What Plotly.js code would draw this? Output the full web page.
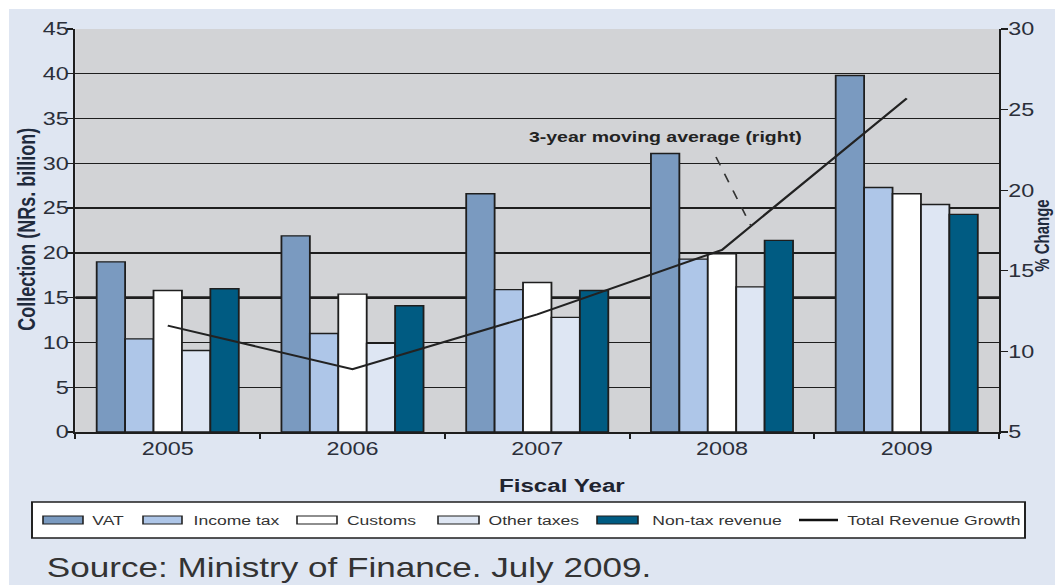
<!DOCTYPE html>
<html>
<head>
<meta charset="utf-8">
<script src="https://cdn.plot.ly/plotly-3.0.1.min.js"></script>
<style>
  html, body { margin: 0; padding: 0; overflow: hidden; background: #dfe6f2; }
  #wrap { width: 1055px; height: 585px; overflow: hidden; }
  #chart { width: 812px; height: 585px; transform: scaleX(1.29926); transform-origin: 0 0; }
</style>
</head>
<body>
<div id="wrap"><div id="chart"></div></div>
<script>
// ---- data ----
const years = ['2005', '2006', '2007', '2008', '2009'];
const vat = [19.0, 21.9, 26.6, 31.1, 39.8];
const incomeTax = [10.4, 11.0, 15.9, 19.3, 27.3];
const customs = [15.8, 15.4, 16.7, 19.9, 26.6];
const otherTaxes = [9.1, 9.9, 12.8, 16.2, 25.4];
const nonTax = [16.0, 14.1, 15.8, 21.4, 24.3];
const revenueGrowth = [11.6, 8.9, 12.3, 16.3, 25.7];

const seriesNames = ['VAT', 'Income tax', 'Customs', 'Other taxes', 'Non-tax revenue'];
const lineName = 'Total Revenue Growth';
const seriesColors = ['#7a9ac0', '#aec6e8', '#ffffff', '#dee6f3', '#005b82'];
const seriesValues = [vat, incomeTax, customs, otherTaxes, nonTax];

// ---- geometry helpers (reference pixel -> paper coords) ----
const W = 812, H = 585, S = 1055 / 812;
const L = 58, R = 43, T = 29, B = 153;
const x0o = L * S, x1o = (W - R) * S;
const xp = px => (px - x0o) / (x1o - x0o);
const yp = py => (432 - py) / (H - T - B);

const FONT = 'Liberation Sans, Arial, sans-serif';
const INK = '#1e1e1e';

const traces = seriesValues.map((vals, i) => ({
  type: 'bar',
  name: seriesNames[i],
  x: years,
  y: vals,
  marker: { color: seriesColors[i], line: { color: INK, width: 1.4 } },
  showlegend: false,
  hoverinfo: 'skip'
}));
traces.push({
  type: 'scatter',
  mode: 'lines',
  name: lineName,
  x: years,
  y: revenueGrowth,
  yaxis: 'y2',
  line: { color: '#222222', width: 2 },
  showlegend: false,
  hoverinfo: 'skip'
});

const shapes = [
  // white strips at top and left of the picture
  { type: 'rect', xref: 'paper', yref: 'paper', x0: xp(0), x1: xp(1056), y0: yp(9), y1: yp(-1),
    fillcolor: '#ffffff', line: { width: 0 } },
  { type: 'rect', xref: 'paper', yref: 'paper', x0: xp(-1), x1: xp(9), y0: yp(586), y1: yp(-1),
    fillcolor: '#ffffff', line: { width: 0 } },
  // heavier line at 15
  { type: 'line', xref: 'paper', yref: 'y', x0: 0, x1: 1, y0: 15, y1: 15, layer: 'below',
    line: { color: INK, width: 2.6 } },
  // annotation pointer
  { type: 'line', xref: 'paper', yref: 'paper', x0: xp(716), y0: yp(157), x1: xp(751), y1: yp(226),
    line: { color: '#333333', width: 1.3, dash: 'dash' } },
  // legend box
  { type: 'rect', xref: 'paper', yref: 'paper', x0: xp(32), x1: xp(1025), y0: yp(538), y1: yp(502),
    fillcolor: '#ffffff', line: { color: INK, width: 1.5 } }
];

const swatchX = [[43, 83], [143, 182], [297, 337], [438, 479], [597, 638]];
const textX = [89, 191, 344, 486, 650, 844];
const LEGEND_FONT = { family: FONT, size: 13.5, color: '#333333' };
const annotations = [];
swatchX.forEach((sx, i) => {
  shapes.push({ type: 'rect', xref: 'paper', yref: 'paper', x0: xp(sx[0]), x1: xp(sx[1]),
    y0: yp(524), y1: yp(516), fillcolor: seriesColors[i], line: { color: INK, width: 1.2 } });
  annotations.push({ xref: 'paper', yref: 'paper', x: xp(textX[i]), y: yp(520), xanchor: 'left', yanchor: 'middle',
    text: seriesNames[i], showarrow: false, font: LEGEND_FONT });
});
shapes.push({ type: 'line', xref: 'paper', yref: 'paper', x0: xp(799), x1: xp(838), y0: yp(520), y1: yp(520),
  line: { color: '#111111', width: 2.5 } });
annotations.push({ xref: 'paper', yref: 'paper', x: xp(textX[5]), y: yp(520), xanchor: 'left', yanchor: 'middle',
  text: lineName, showarrow: false, font: LEGEND_FONT });

annotations.push(
  { xref: 'paper', yref: 'paper', x: xp(27), y: yp(229), xanchor: 'center', yanchor: 'middle', textangle: -90,
    text: 'Collection (NRs. billion)', showarrow: false,
    font: { family: FONT, size: 18, weight: 'bold', color: '#1f2a3c' } },
  { xref: 'paper', yref: 'paper', x: xp(1043), y: yp(235), xanchor: 'center', yanchor: 'middle', textangle: -90,
    text: '% Change', showarrow: false,
    font: { family: FONT, size: 15, weight: 'bold', color: '#1f2a3c' } },
  { xref: 'paper', yref: 'paper', x: xp(562.5), y: yp(485), xanchor: 'center', yanchor: 'middle',
    text: 'Fiscal Year', showarrow: false,
    font: { family: FONT, size: 18.6, weight: 'bold', color: '#1f2430' } },
  { xref: 'paper', yref: 'paper', x: xp(665.5), y: yp(136.5), xanchor: 'center', yanchor: 'middle',
    text: '3-year moving average (right)', showarrow: false,
    font: { family: FONT, size: 15, weight: 'bold', color: '#222222' } },
  { xref: 'paper', yref: 'paper', x: xp(44), y: yp(567.5), xanchor: 'left', yanchor: 'middle',
    text: 'Source: Ministry of Finance. July 2009.', showarrow: false,
    font: { family: FONT, size: 27, color: '#333333' } }
);

const tickFont = { family: FONT, size: 18, color: '#2b2f3a' };

const layout = {
  width: W, height: H,
  margin: { l: L, r: R, t: T, b: B, pad: 0 },
  paper_bgcolor: '#dfe6f2',
  plot_bgcolor: '#d2d3d6',
  barmode: 'group',
  bargap: 0.231,
  bargroupgap: 0,
  showlegend: false,
  xaxis: {
    type: 'category', range: [-0.5, 4.5], fixedrange: true,
    tickson: 'boundaries', ticks: 'outside', ticklen: 5, tickwidth: 1.4, tickcolor: INK,
    showline: true, linecolor: INK, linewidth: 1.5, showgrid: false,
    tickfont: tickFont
  },
  yaxis: {
    range: [0, 45], dtick: 5, tick0: 0, fixedrange: true,
    ticks: 'outside', ticklen: 5, tickwidth: 1.4, tickcolor: INK,
    ticklabelstandoff: -5,
    showline: true, linecolor: INK, linewidth: 1.5,
    showgrid: true, gridcolor: INK, gridwidth: 1.3, zeroline: false,
    tickfont: tickFont
  },
  yaxis2: {
    range: [5, 30], dtick: 5, tick0: 5, overlaying: 'y', side: 'right', fixedrange: true,
    ticks: 'outside', ticklen: 5, tickwidth: 1.4, tickcolor: INK,
    ticklabelstandoff: -3,
    showline: true, linecolor: INK, linewidth: 1.5,
    showgrid: false, zeroline: false,
    tickfont: tickFont
  },
  shapes: shapes,
  annotations: annotations
};

Plotly.newPlot('chart', traces, layout, { staticPlot: true, displayModeBar: false });
</script>
</body>
</html>
